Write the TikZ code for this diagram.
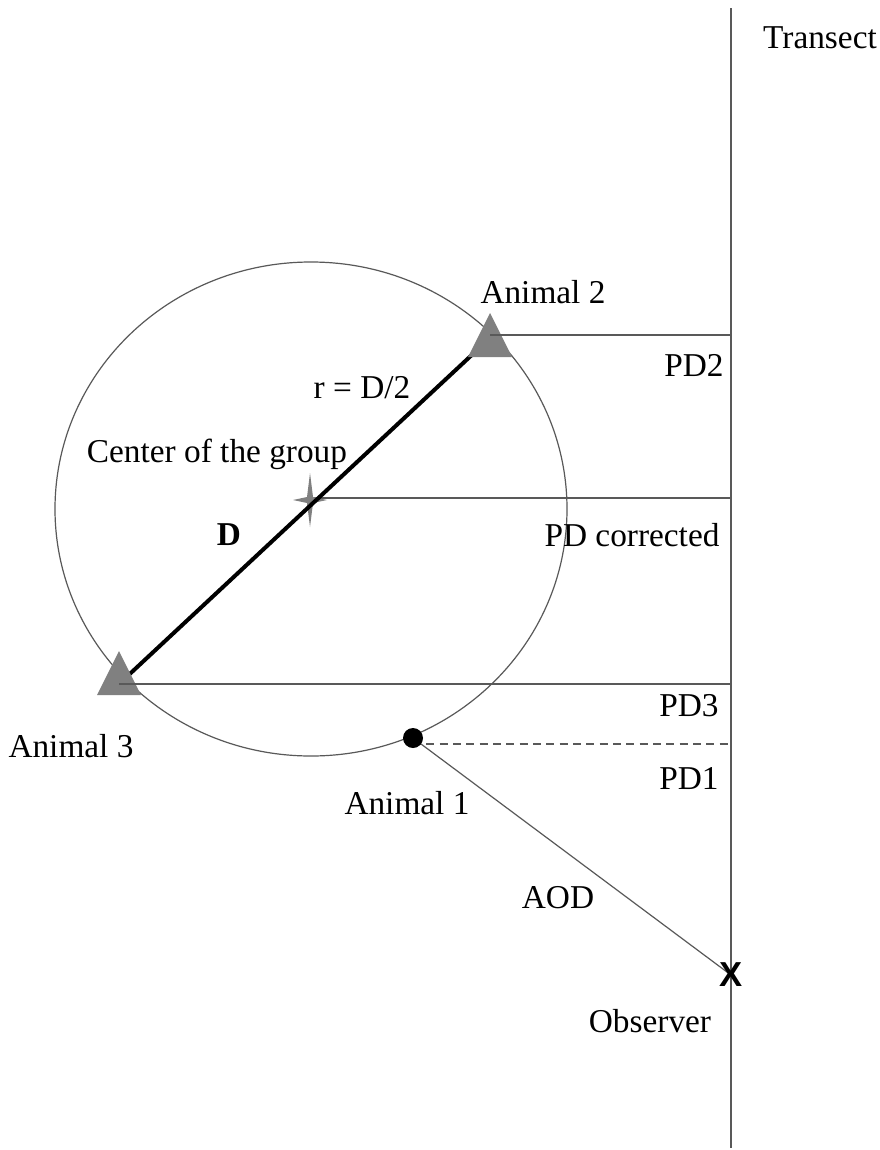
\documentclass[tikz,border=0pt]{standalone}
\usepackage{fontspec}
\setmainfont{Liberation Serif}
\newfontfamily\xfont{Liberation Sans}
\begin{document}
\begin{tikzpicture}[x=0.75pt,y=-0.75pt,
  thin line/.style={draw=black!65,line width=0.9pt},
  lbl/.style={font=\fontsize{25}{30}\selectfont,inner sep=0pt},
  grayfill/.style={fill=black!50}]
\useasboundingbox[fill=white] (0,0) rectangle (880,1150);
% transect
\coordinate (tT) at (731,8);
\coordinate (tB) at (731,1148);
\draw[thin line] (tT) -- (tB);
% group circle
\draw[thin line] (311,509) ellipse [x radius=256, y radius=247];
% positions
\coordinate (a2) at (490,338);
\coordinate (a3) at (119,684);
\coordinate (cen) at (310,500);
\coordinate (a1) at (413,738);
\coordinate (obs) at (731,975);
\coordinate (p2) at (731,335);
\coordinate (pc) at (731,498);
\coordinate (p3) at (731,684);
\coordinate (p1) at (731,744);
% perpendicular distances
\draw[thin line] (490,335) -- (p2);
\draw[thin line] (310,498) -- (pc);
\draw[thin line] (a3) -- (p3);
\draw[thin line,dash pattern=on 6pt off 4pt] (413,744) -- (p1);
\draw[thin line] (a1) -- (obs);
% star
\fill[grayfill] (cen) ++(0,-27) -- ++(3,24) -- ++(14,3) -- ++(-14,3) -- ++(-3,24) -- ++(-3,-24) -- ++(-14,-3) -- ++(14,-3) -- cycle;
% diameter
\draw[line width=3pt,black] (a3) -- (a2);
% triangles
\fill[grayfill] (490,313) -- (512,357) -- (468,357) -- cycle;
\fill[grayfill] (119,651) -- (141,695) -- (97,695) -- cycle;
\draw[thin line] (490,335) -- (512,335);
\draw[thin line] (119,684) -- (141,684);
% animal 1
\node[circle,fill=black,minimum size=15pt,inner sep=0pt] (n1) at (a1) {};
% observer
\node[inner sep=0pt,font=\xfont\bfseries\fontsize{26}{30}\selectfont] (nobs) at (obs) {X};
% labels
\node[lbl] (lT) at (820,38) {Transect};
\node[lbl] (l2) at (543,292) {Animal 2};
\node[lbl] (lp2) at (694,365) {PD2};
\node[lbl] (lr) at (362,388) {r = D/2};
\node[lbl] (lc) at (217,454) {Center of the group};
\node[lbl,font=\bfseries\fontsize{25}{30}\selectfont] (lD) at (229,535) {D};
\node[lbl] (lpc) at (632,535) {PD corrected};
\node[lbl] (lp3) at (689,706) {PD3};
\node[lbl] (l3) at (71,746) {Animal 3};
\node[lbl] (lp1) at (689,779) {PD1};
\node[lbl] (l1) at (407,803) {Animal 1};
\node[lbl] (laod) at (558,898) {AOD};
\node[lbl] (lobs) at (650,1021) {Observer};
\end{tikzpicture}
\end{document}
